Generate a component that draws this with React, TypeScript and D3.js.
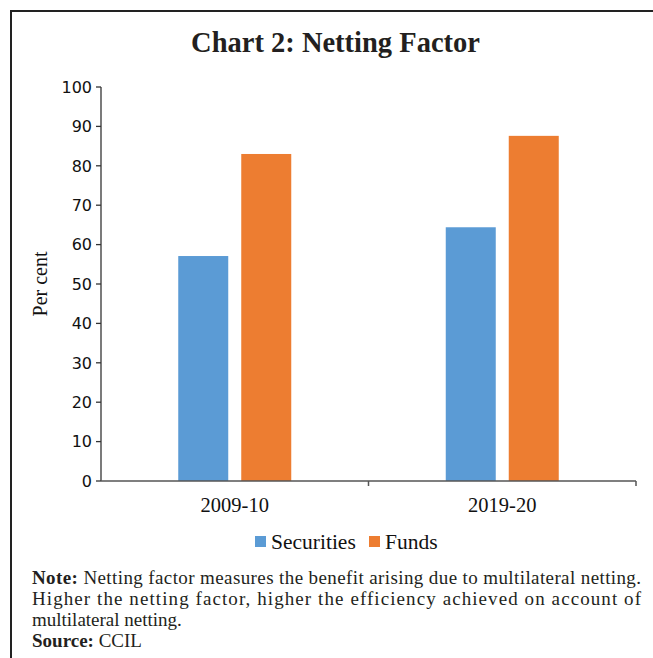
import React from "react";
import * as d3 from "d3";

const categories = ["2009-10", "2019-20"];
const seriesNames = ["Securities", "Funds"];
const securities = [57.1, 64.4];
const funds = [83.0, 87.6];
const yTicks = [0, 10, 20, 30, 40, 50, 60, 70, 80, 90, 100];
const colors = ["#5B9BD5", "#ED7D31"];

const W = 653;
const H = 658;
const serif = "'Liberation Serif', 'DejaVu Serif', serif";

export default function App() {
  const x0 = 101;
  const x1 = 636;
  const yTop = 87;
  const yBot = 481;
  const x = d3.scaleBand<string>().domain(categories).range([x0, x1]);
  const y = d3.scaleLinear().domain([0, 100]).range([yBot, yTop]);
  const barW = 50;
  const gap = 13;
  const values = [securities, funds];

  return (
    <svg width={W} height={H} style={{ position: "absolute", left: 0, top: 0, background: "#fff" }}>
      <rect x={0} y={0} width={W} height={H} fill="#fff" />
      {/* frame */}
      <line x1={10} y1={11} x2={W} y2={11} stroke="#222" strokeWidth={2} />
      <line x1={11} y1={10} x2={11} y2={H} stroke="#222" strokeWidth={2} />

      <text x={335.5} y={52} textAnchor="middle" fontFamily={serif} fontWeight="bold" fontSize={28.5} fill="#231f20">
        Chart 2: Netting Factor
      </text>

      {/* bars */}
      {categories.map((c, i) => {
        const center = (x(c) as number) + x.bandwidth() / 2;
        return seriesNames.map((s, j) => {
          const bx = center - gap / 2 - barW + j * (barW + gap);
          const v = values[j][i];
          return (
            <rect key={c + s} x={bx} y={y(v)} width={barW} height={yBot - y(v)} fill={colors[j]} />
          );
        });
      })}

      {/* y axis */}
      <line x1={x0} y1={yTop} x2={x0} y2={yBot} stroke="#333" strokeWidth={1.3} />
      {yTicks.map((t) => (
        <g key={t}>
          <line x1={x0 - 5} x2={x0} y1={y(t)} y2={y(t)} stroke="#333" strokeWidth={1.3} />
          <text x={x0 - 9} y={y(t)} dy="0.36em" textAnchor="end" fontFamily="'DejaVu Sans', sans-serif" fontSize={16} fill="#111">
            {t}
          </text>
        </g>
      ))}
      <text
        transform={`translate(47,${(yTop + yBot) / 2}) rotate(-90)`}
        textAnchor="middle"
        fontFamily={serif}
        fontSize={20}
        fill="#111"
      >
        Per cent
      </text>

      {/* x axis */}
      <line x1={x0} y1={yBot} x2={x1} y2={yBot} stroke="#555" strokeWidth={1.5} />
      {[x0 + x.bandwidth(), x1].map((t, i) => (
        <line key={i} x1={t} x2={t} y1={yBot} y2={yBot + 5} stroke="#555" strokeWidth={1.5} />
      ))}
      {categories.map((c) => (
        <text key={c} x={(x(c) as number) + x.bandwidth() / 2} y={512} textAnchor="middle" fontFamily={serif} fontSize={20.5} fill="#111">
          {c}
        </text>
      ))}

      {/* legend */}
      <rect x={255} y={536} width={11} height={11} fill={colors[0]} />
      <text x={271} y={549} fontFamily={serif} fontSize={21.5} fill="#111">{seriesNames[0]}</text>
      <rect x={369} y={536} width={11} height={11} fill={colors[1]} />
      <text x={385} y={549} fontFamily={serif} fontSize={21.5} fill="#111">{seriesNames[1]}</text>

      {/* note */}
      <text x={32} y={584} fontFamily={serif} fontSize={19} fill="#231f20" textLength={609} lengthAdjust="spacing">
        <tspan fontWeight="bold">Note:</tspan> Netting factor measures the benefit arising due to multilateral netting.
      </text>
      <text x={32} y={605} fontFamily={serif} fontSize={19} fill="#231f20" textLength={609} lengthAdjust="spacing">
        Higher the netting factor, higher the efficiency achieved on account of
      </text>
      <text x={32} y={626} fontFamily={serif} fontSize={19} fill="#231f20">
        multilateral netting.
      </text>
      <text x={32} y={647} fontFamily={serif} fontSize={19} fill="#231f20">
        <tspan fontWeight="bold">Source:</tspan> CCIL
      </text>
    </svg>
  );
}
